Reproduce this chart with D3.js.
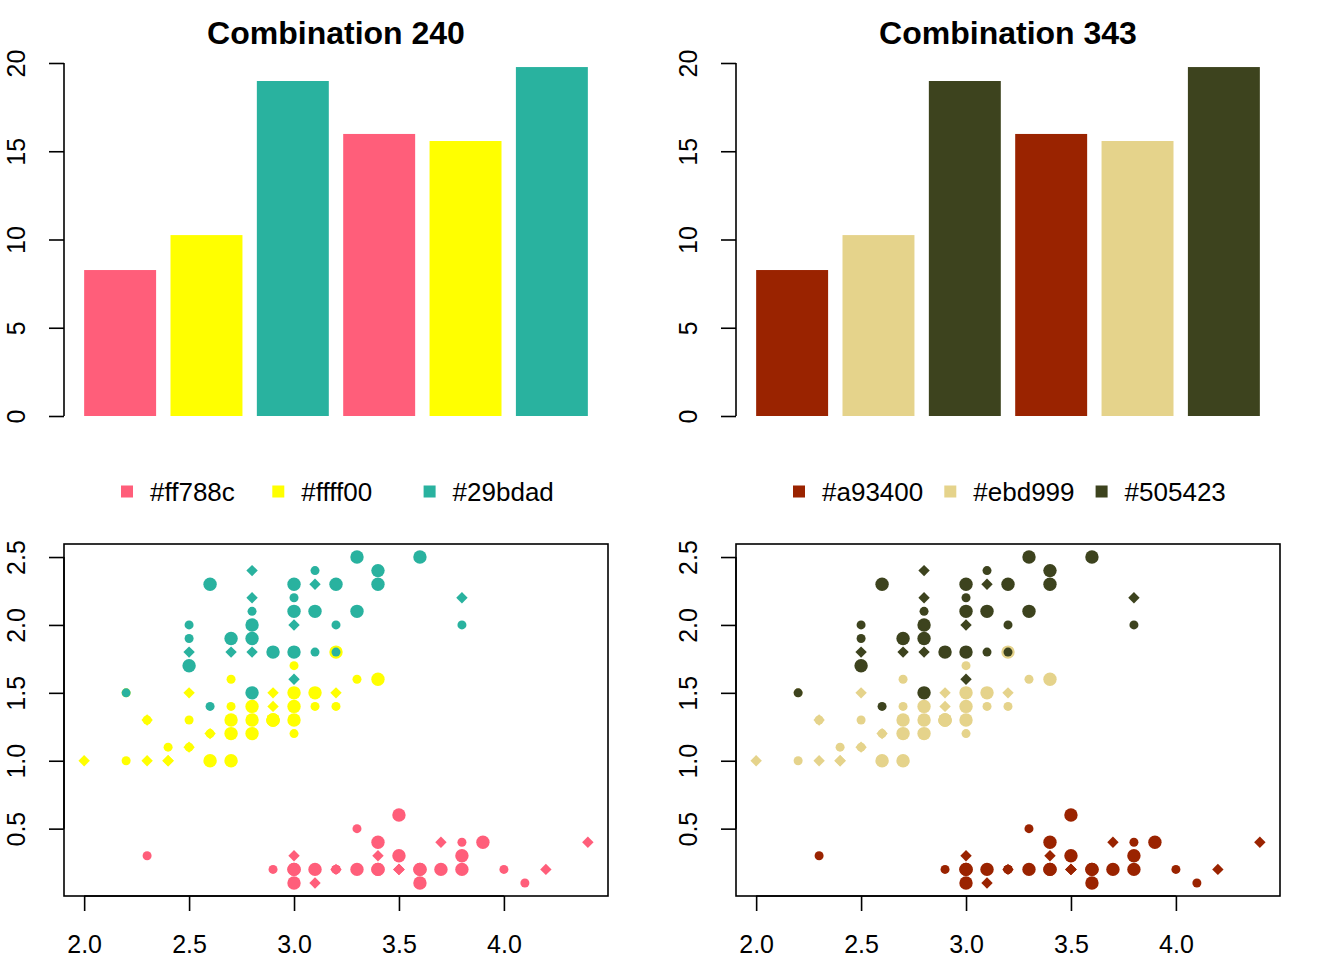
<!DOCTYPE html>
<html><head><meta charset="utf-8">
<script src="https://cdn.jsdelivr.net/npm/d3@7"></script>
<style>
body{margin:0;background:#fff;}
svg{display:block;font-family:"Liberation Sans",Arial,Helvetica,sans-serif;}
</style></head>
<body>
<svg id="chart" width="1344" height="960"></svg>
<script>
// ---------- data ----------
const titles = ["Combination 240", "Combination 343"];
const legendLabels = [["#ff788c", "#ffff00", "#29bdad"], ["#a93400", "#ebd999", "#505423"]];
const paletteShown = [["#FF5E7A", "#FFFF00", "#29B29F"], ["#9A2300", "#E5D38B", "#3D431E"]];
const barValues = [8.27, 10.25, 18.98, 15.98, 15.58, 19.77];
const barColorIndex = [0, 1, 2, 0, 1, 2];
const barTicks = [0, 5, 10, 15, 20];
const xTicks = [2.0, 2.5, 3.0, 3.5, 4.0];
const yTicks = [0.5, 1.0, 1.5, 2.0, 2.5];

const setosaSepalWidth = [3.5,3.0,3.2,3.1,3.6,3.9,3.4,3.4,2.9,3.1,3.7,3.4,3.0,3.0,4.0,4.4,3.9,3.5,3.8,3.8,3.4,3.7,3.6,3.3,3.4,3.0,3.4,3.5,3.4,3.2,3.1,3.4,4.1,4.2,3.1,3.2,3.5,3.6,3.0,3.4,3.5,2.3,3.2,3.5,3.8,3.0,3.8,3.2,3.7,3.3];
const setosaPetalWidth = [0.2,0.2,0.2,0.2,0.2,0.4,0.3,0.2,0.2,0.1,0.2,0.2,0.1,0.1,0.2,0.4,0.4,0.3,0.3,0.3,0.2,0.4,0.2,0.5,0.2,0.2,0.4,0.2,0.2,0.2,0.2,0.4,0.1,0.2,0.2,0.2,0.2,0.1,0.2,0.2,0.3,0.3,0.2,0.6,0.4,0.3,0.2,0.2,0.2,0.2];
const versicolorSepalWidth = [3.2,3.2,3.1,2.3,2.8,2.8,3.3,2.4,2.9,2.7,2.0,3.0,2.2,2.9,2.9,3.1,3.0,2.7,2.2,2.5,3.2,2.8,2.5,2.8,2.9,3.0,2.8,3.0,2.9,2.6,2.4,2.4,2.7,2.7,3.0,3.4,3.1,2.3,3.0,2.5,2.6,3.0,2.6,2.3,2.7,3.0,2.9,2.9,2.5,2.8];
const versicolorPetalWidth = [1.4,1.5,1.5,1.3,1.5,1.3,1.6,1.0,1.3,1.4,1.0,1.5,1.0,1.4,1.3,1.4,1.5,1.0,1.5,1.1,1.8,1.3,1.5,1.2,1.3,1.4,1.4,1.7,1.5,1.0,1.1,1.0,1.2,1.6,1.5,1.6,1.5,1.3,1.3,1.3,1.2,1.4,1.2,1.0,1.3,1.2,1.3,1.3,1.1,1.3];
const virginicaSepalWidth = [3.3,2.7,3.0,2.9,3.0,3.0,2.5,2.9,2.5,3.6,3.2,2.7,3.0,2.5,2.8,3.2,3.0,3.8,2.6,2.2,3.2,2.8,2.8,2.7,3.3,3.2,2.8,3.0,2.8,3.0,2.8,3.8,2.8,2.8,2.6,3.0,3.4,3.1,3.0,3.1,3.1,3.1,2.7,3.2,3.3,3.0,2.5,3.0,3.4,3.0];
const virginicaPetalWidth = [2.5,1.9,2.1,1.8,2.2,2.1,1.7,1.8,1.8,2.5,2.0,1.9,2.1,2.0,2.4,2.3,1.8,2.2,2.3,1.5,2.3,2.0,2.0,1.8,2.1,1.8,1.8,1.8,2.1,1.6,1.9,2.0,2.2,1.5,1.4,2.3,2.4,1.8,1.8,2.1,2.4,2.3,1.9,2.3,2.5,2.3,1.9,2.0,2.3,1.8];
// plotting symbols recycled over rows (as pch = 18:20)
const shapeCycle = ["diamond", "large", "small"];

// ---------- build rows ----------
const points = [];
[[setosaSepalWidth, setosaPetalWidth], [versicolorSepalWidth, versicolorPetalWidth], [virginicaSepalWidth, virginicaPetalWidth]]
  .forEach(([xs, ys], s) => xs.forEach((x, i) => points.push({x, y: ys[i], s})));
points.forEach((p, i) => p.shape = shapeCycle[i % 3]);

const svg = d3.select("#chart");
const AX = 1.6;
const TICKFONT = 25;

[0, 1].forEach(panel => {
  const ox = panel * 672;
  const cols = paletteShown[panel];
  const g = svg.append("g").attr("transform", `translate(${ox},0)`);

  // ----- title -----
  g.append("text").attr("x", 336).attr("y", 44).attr("text-anchor", "middle")
    .attr("font-size", 32).attr("font-weight", "bold").text(titles[panel]);

  // ----- bar chart -----
  const xb = d3.scaleLinear().domain([-0.08, 7.48]).range([64, 608]);
  const yb = d3.scaleLinear().domain([0, 20]).range([416, 63]);
  g.selectAll("rect.bar").data(barValues).join("rect").attr("class", "bar")
    .attr("x", (d, i) => xb(0.2 + i * 1.2))
    .attr("width", (d, i) => xb(1.2 + i * 1.2) - xb(0.2 + i * 1.2))
    .attr("y", d => yb(d)).attr("height", d => yb(0) - yb(d))
    .attr("fill", (d, i) => cols[barColorIndex[i]]);
  const yAxisB = g.append("g").attr("transform", "translate(64,0)")
    .call(d3.axisLeft(yb).tickValues(barTicks).tickSize(15).tickSizeOuter(0).tickPadding(0).tickFormat(d3.format("d")));
  yAxisB.select(".domain").attr("stroke-width", AX).attr("d", `M0,${yb(0)}V${yb(20)}`);
  yAxisB.selectAll(".tick line").attr("stroke-width", AX);
  yAxisB.selectAll(".tick text").attr("font-size", TICKFONT).attr("fill", "#000")
    .attr("x", null).attr("dy", null)
    .attr("text-anchor", "middle")
    .attr("transform", "translate(-39,0) rotate(-90)");

  // ----- legend -----
  const lg = g.append("g");
  legendLabels[panel].forEach((lab, k) => {
    lg.append("rect").attr("x", 121 + k * 151.3).attr("y", 485.5).attr("width", 12).attr("height", 12).attr("fill", cols[k]);
    lg.append("text").attr("x", 150 + k * 151.3).attr("y", 500.5).attr("font-size", 26).text(lab);
  });

  // ----- scatter -----
  const xs = d3.scaleLinear().domain([1.904, 4.496]).range([64, 608]);
  const ys = d3.scaleLinear().domain([0.004, 2.596]).range([896, 544]);
  const sg = g.append("g");
  points.forEach(p => {
    const cx = xs(p.x), cy = ys(p.y), c = cols[p.s];
    if (p.shape === "large") sg.append("circle").attr("cx", cx).attr("cy", cy).attr("r", 6.7).attr("fill", c);
    else if (p.shape === "small") sg.append("circle").attr("cx", cx).attr("cy", cy).attr("r", 4.5).attr("fill", c);
    else { const h = 5.7; sg.append("path").attr("d", `M${cx},${cy - h}L${cx + h},${cy}L${cx},${cy + h}L${cx - h},${cy}Z`).attr("fill", c); }
  });
  g.append("rect").attr("x", 64).attr("y", 544).attr("width", 544).attr("height", 352)
    .attr("fill", "none").attr("stroke", "#000").attr("stroke-width", AX);
  const xAxisS = g.append("g").attr("transform", "translate(0,896)")
    .call(d3.axisBottom(xs).tickValues(xTicks).tickSize(15).tickSizeOuter(0).tickPadding(0).tickFormat(d3.format(".1f")));
  xAxisS.select(".domain").attr("stroke-width", AX).attr("d", `M${xs(2.0)},0H${xs(4.0)}`);
  xAxisS.selectAll(".tick line").attr("stroke-width", AX);
  xAxisS.selectAll(".tick text").attr("font-size", TICKFONT).attr("fill", "#000").attr("dy", null).attr("y", 57);
  const yAxisS = g.append("g").attr("transform", "translate(64,0)")
    .call(d3.axisLeft(ys).tickValues(yTicks).tickSize(15).tickSizeOuter(0).tickPadding(0).tickFormat(d3.format(".1f")));
  yAxisS.select(".domain").attr("stroke-width", AX).attr("d", `M0,${ys(0.5)}V${ys(2.5)}`);
  yAxisS.selectAll(".tick line").attr("stroke-width", AX);
  yAxisS.selectAll(".tick text").attr("font-size", TICKFONT).attr("fill", "#000")
    .attr("x", null).attr("dy", null).attr("text-anchor", "middle")
    .attr("transform", "translate(-39,0) rotate(-90)");
});
</script>
</body></html>
